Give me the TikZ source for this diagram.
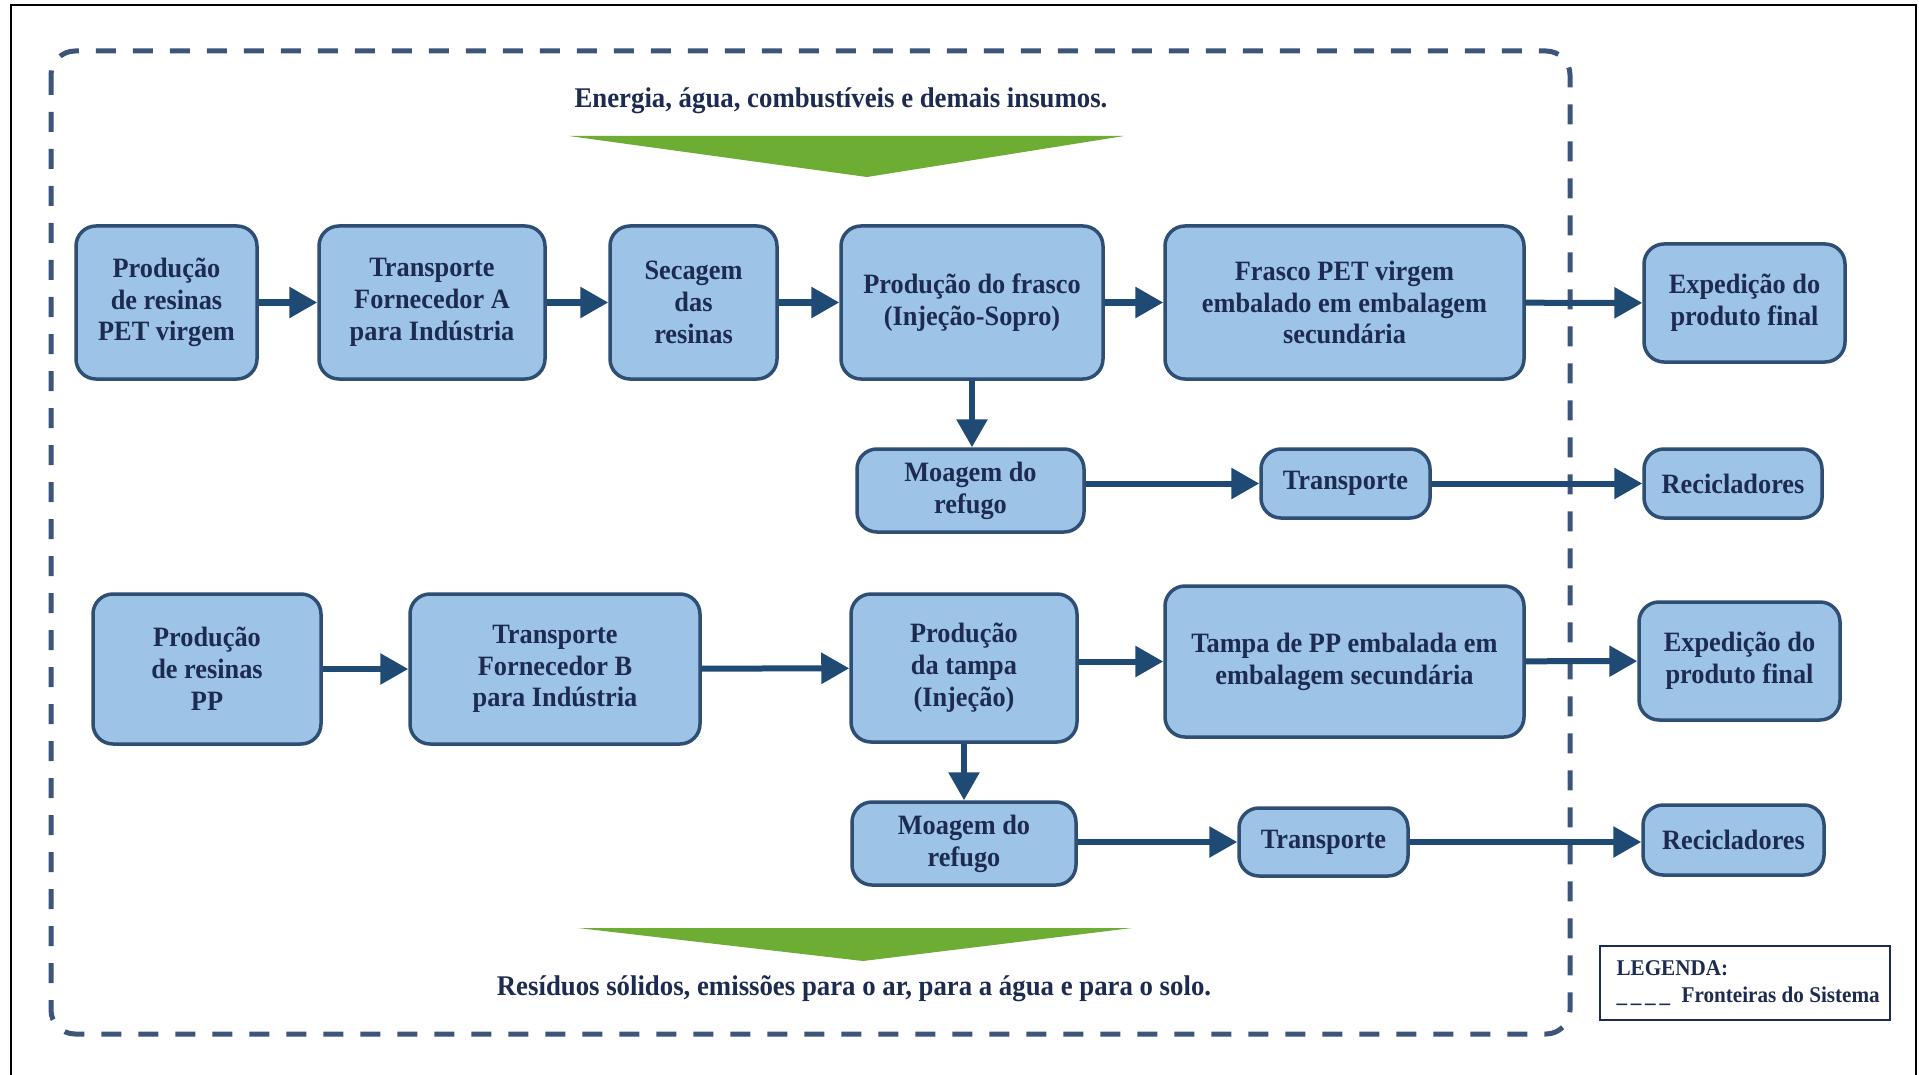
\documentclass[tikz,border=0pt]{standalone}
\usepackage{fontspec}
\setmainfont{Liberation Serif}[FakeStretch=0.94]
\usetikzlibrary{arrows.meta}

\definecolor{boxfill}{HTML}{9DC3E6}
\definecolor{boxline}{HTML}{2E4E74}
\definecolor{inkblue}{HTML}{1C2B4F}
\definecolor{arrowblue}{HTML}{1F4A73}
\definecolor{limitblue}{HTML}{3D5578}
\definecolor{leafgreen}{HTML}{6DAD33}

\tikzset{
  stepbox/.style={draw=boxline, line width=3.5pt, fill=boxfill,
    rounded corners=20pt, align=center, text=inkblue, inner sep=0pt,
    font=\bfseries\fontsize{28}{31.8}\selectfont},
  flow/.style={draw=arrowblue, line width=6pt,
    -{Triangle[length=28pt,width=30pt]}},
  limit/.style={draw=limitblue, line width=5pt, dash pattern=on 20pt off 17pt,
    rounded corners=24pt},
  caption/.style={text=inkblue, font=\bfseries\fontsize{28.5}{32}\selectfont},
  legendtext/.style={anchor=base west, text=inkblue, font=\bfseries\fontsize{22.5}{24}\selectfont},
  inout/.style={fill=leafgreen, draw=none},
}

\begin{document}
\begin{tikzpicture}[x=1pt,y=-1pt]
\useasboundingbox (0,0) rectangle (1919,1075);
\fill[white] (0,0) rectangle (1919,1075);

% page frame
\draw[black, line width=2.5pt] (11,1075) -- (11,5) -- (1916,5) -- (1916,1075);

% system boundary
\draw[limit] (51,51) rectangle (1570,1034);

% inputs and outputs
\node[caption] (inputs) at (841,101) {Energia, água, combustíveis e demais insumos.};
\fill[inout] (569,136) -- (1124,136) -- (867,177) -- cycle;
\fill[inout] (578,928) -- (1132,928) -- (863,961) -- cycle;
\node[caption] (outputs) at (854,989) {Resíduos sólidos, emissões para o ar, para a água e para o solo.};

% PET bottle line
\node[stepbox, minimum width=181pt, minimum height=153pt] (b1) at (166.5,302.5) {Produção\\de resinas\\PET virgem};
\node[stepbox, minimum width=226pt, minimum height=153pt] (b2) at (432,302.5) {Transporte\\Fornecedor A\\para Indústria};
\node[stepbox, minimum width=167pt, minimum height=153pt] (b3) at (693.5,302.5) {Secagem\\das\\resinas};
\node[stepbox, minimum width=262pt, minimum height=153pt] (b4) at (972,302.5) {Produção do frasco\\(Injeção-Sopro)};
\node[stepbox, minimum width=359pt, minimum height=153pt] (b5) at (1344.5,302.5) {Frasco PET virgem\\embalado em embalagem\\secundária};
\node[stepbox, minimum width=201pt, minimum height=118pt] (b6) at (1744.5,303) {Expedição do\\produto final};

\node[stepbox, minimum width=227pt, minimum height=83pt] (b7) at (970.5,490.5) {Moagem do\\refugo};
\node[stepbox, minimum width=169pt, minimum height=69pt] (b8) at (1345.5,483.5) {Transporte};
\node[stepbox, minimum width=178pt, minimum height=69pt] (b9) at (1733,483.5) {Recicladores};

% PP cap line
\node[stepbox, minimum width=228pt, minimum height=150pt] (b10) at (207,669) {Produção\\de resinas\\PP};
\node[stepbox, minimum width=290pt, minimum height=150pt] (b11) at (555,669) {Transporte\\Fornecedor B\\para Indústria};
\node[stepbox, minimum width=226pt, minimum height=148pt] (b12) at (964,668) {Produção\\da tampa\\(Injeção)};
\node[stepbox, minimum width=359pt, minimum height=151pt] (b13) at (1344.5,661.5) {Tampa de PP embalada em\\embalagem secundária};
\node[stepbox, minimum width=201pt, minimum height=118pt] (b14) at (1739.5,661) {Expedição do\\produto final};

\node[stepbox, minimum width=224pt, minimum height=83pt] (b15) at (964,843.5) {Moagem do\\refugo};
\node[stepbox, minimum width=169pt, minimum height=68pt] (b16) at (1323.5,842) {Transporte};
\node[stepbox, minimum width=181pt, minimum height=70pt] (b17) at (1733.5,840) {Recicladores};

% connectors
\draw[flow] (b1) -- (b2);
\draw[flow] (b2) -- (b3);
\draw[flow] (b3) -- (b4);
\draw[flow] (b4) -- (b5);
\draw[flow] (b5) -- (b6);
\draw[flow] (b4.south) -- (b4.south |- b7.north);
\draw[flow] (b7.east |- b8.west) -- (b8.west);
\draw[flow] (b8) -- (b9);

\draw[flow] (b10) -- (b11);
\draw[flow] (b11) -- (b12);
\draw[flow] (b12.east |- b13.west) -- (b13.west);
\draw[flow] (b13) -- (b14);
\draw[flow] (b12.south) -- (b12.south |- b15.north);
\draw[flow] (b15.east |- b16.west) -- (b16.west);
\draw[flow] (b16.east) -- (b16.east -| b17.west);

% legend
\node[draw=inkblue, line width=2pt, minimum width=290pt, minimum height=74pt, fill=white] (legend) at (1745,983) {};
\node[legendtext] (legtitle) at (1613,975) {LEGENDA:};
\node[legendtext] (legtext) at (1613,1002) {\_\,\_\,\_\,\_\; Fronteiras do Sistema};
\end{tikzpicture}
\end{document}
